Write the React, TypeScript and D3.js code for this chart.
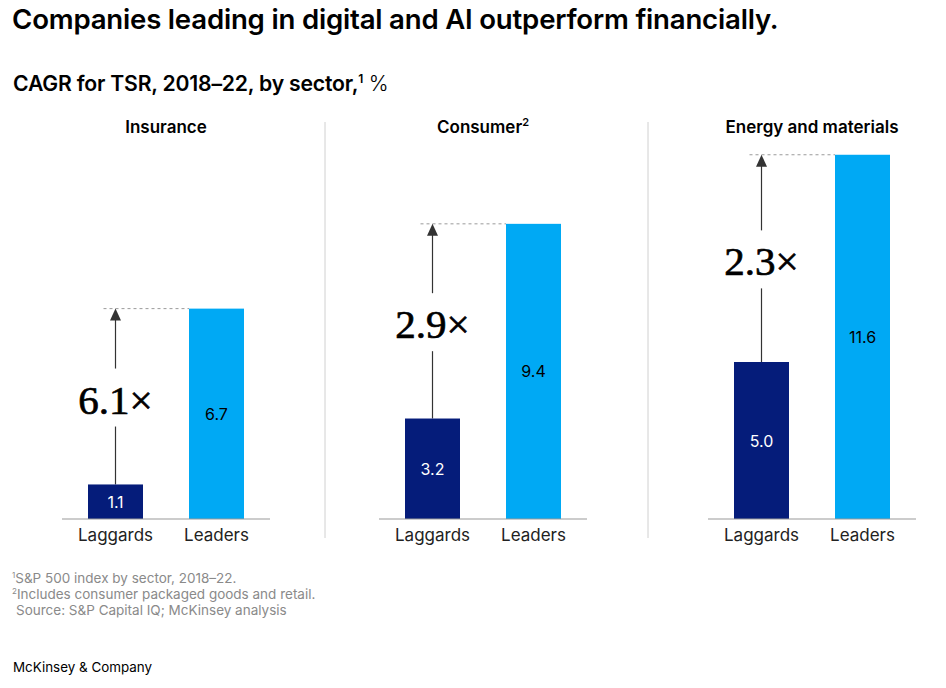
import React from "react";
import * as d3 from "d3";

const sectors = ["Insurance", "Consumer", "Energy and materials"];
const sectorSup = ["", "2", ""];
const groups = ["Laggards", "Leaders"];
const laggards = [1.1, 3.2, 5.0];
const leaders = [6.7, 9.4, 11.6];
const multipliers = ["6.1×", "2.9×", "2.3×"];
const footnotes = [
  { sup: "1", text: "S&P 500 index by sector, 2018–22." },
  { sup: "2", text: "Includes consumer packaged goods and retail." },
  { sup: "", text: "Source: S&P Capital IQ; McKinsey analysis" },
];

const W = 946;
const H = 688;
const BASE = 519;
const SANS = "Inter, 'Liberation Sans', Arial, sans-serif";
const SERIF = "'Liberation Serif', 'DejaVu Serif', Georgia, serif";
const NAVY = "#051c7a";
const CYAN = "#00a9f4";

export default function App() {
  const y = d3.scaleLinear().domain([0, 12]).range([BASE, BASE - 12 * 31.4]);
  const centers = [166, 483, 812];
  const barW = 55;
  const dividers = [325, 648];

  return (
    <svg width={W} height={H} style={{ position: "absolute", left: 0, top: 0, background: "#fff" }}>
      <text x={12} y={29} fontFamily={SANS} fontSize={27.6} fontWeight={600} fill="#000" letterSpacing={-0.2}>
        Companies leading in digital and AI outperform financially.
      </text>
      <text x={13} y={91} fontFamily={SANS} fontSize={21.2} fontWeight={600} fill="#000" letterSpacing={-0.2}>
        CAGR for TSR, 2018–22, by sector,
        <tspan fontSize={12} dy={-8} fontWeight={600}>1</tspan>
        <tspan dy={8} fontWeight={300}> %</tspan>
      </text>

      {dividers.map((dx) => (
        <line key={dx} x1={dx} x2={dx} y1={122} y2={538} stroke="#d0d0d0" strokeWidth={1} />
      ))}

      {sectors.map((s, i) => {
        const c = centers[i];
        const x = d3.scalePoint<string>().domain(groups).range([c - 50.5, c + 50.5]);
        const xl = x("Laggards")!;
        const xr = x("Leaders")!;
        const lagTop = y(laggards[i]);
        const leadTop = y(leaders[i]);
        const mid = (lagTop + leadTop) / 2 + 4;
        const gap = 30;
        return (
          <g key={s}>
            <text x={c} y={133} textAnchor="middle" fontFamily={SANS} fontSize={17} fontWeight={600} fill="#000">
              {s}
              {sectorSup[i] && (
                <tspan fontSize={11} dy={-7}>{sectorSup[i]}</tspan>
              )}
            </text>
            <line x1={xl - 12} x2={xr - barW / 2} y1={leadTop} y2={leadTop} stroke="#9a9a9a" strokeWidth={1} strokeDasharray="3,3" />
            <line x1={xl} x2={xl} y1={lagTop} y2={mid + gap - 4} stroke="#333" strokeWidth={1.2} />
            <line x1={xl} x2={xl} y1={mid - gap - 2} y2={leadTop + 10} stroke="#333" strokeWidth={1.2} />
            <path d={`M${xl},${leadTop} L${xl - 5.5},${leadTop + 12} L${xl + 5.5},${leadTop + 12} Z`} fill="#333" />
            <text x={xl} y={mid + 13} textAnchor="middle" fontFamily={SERIF} fontSize={41} fill="#000" stroke="#000" strokeWidth={0.7}>
              {multipliers[i]}
            </text>
            <rect x={xl - barW / 2} y={lagTop} width={barW} height={BASE - lagTop} fill={NAVY} />
            <rect x={xr - barW / 2} y={leadTop} width={barW} height={BASE - leadTop} fill={CYAN} />
            <text x={xl} y={(lagTop + BASE) / 2 + 6} textAnchor="middle" fontFamily={SANS} fontSize={16} fill="#fff">
              {laggards[i].toFixed(1)}
            </text>
            <text x={xr} y={(leadTop + BASE) / 2 + 6} textAnchor="middle" fontFamily={SANS} fontSize={16} fill="#000">
              {leaders[i].toFixed(1)}
            </text>
            <line x1={c - 104} x2={c + 104} y1={BASE} y2={BASE} stroke="#999" strokeWidth={1} />
            {groups.map((g) => (
              <text key={g} x={x(g)} y={541} textAnchor="middle" fontFamily={SANS} fontSize={17} fill="#222">
                {g}
              </text>
            ))}
          </g>
        );
      })}

      {footnotes.map((f, i) => (
        <text key={i} x={f.sup ? 12 : 16} y={583 + i * 16} fontFamily={SANS} fontSize={13.5} fill="#8a8a8a">
          {f.sup && <tspan fontSize={8} dy={-5}>{f.sup}</tspan>}
          <tspan dy={f.sup ? 5 : 0}>{f.text}</tspan>
        </text>
      ))}
      <text x={13} y={672} fontFamily={SANS} fontSize={13.4} fill="#000">
        McKinsey &amp; Company
      </text>
    </svg>
  );
}
